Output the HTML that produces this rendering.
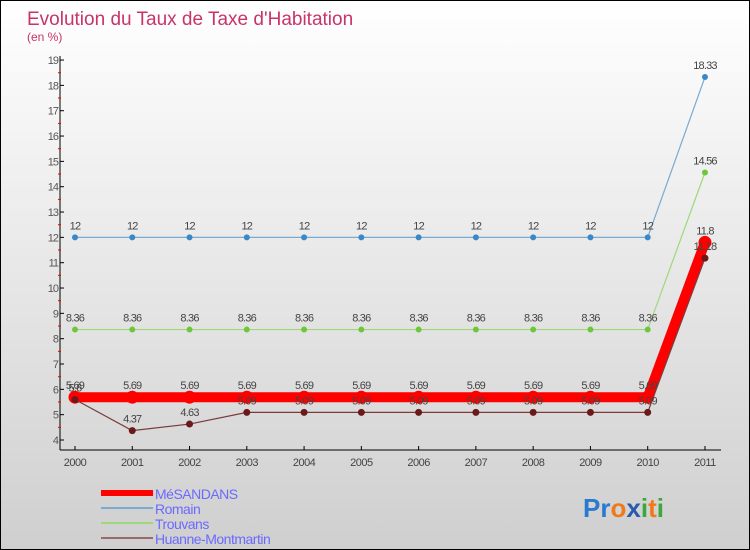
<!DOCTYPE html>
<html><head><meta charset="utf-8"><style>
body{margin:0}
#c{width:748px;height:548px;border:1px solid #000;background:linear-gradient(#fff,#cfcfcf);position:relative;overflow:hidden;font-family:"Liberation Sans",sans-serif}
</style></head><body>
<div id="c">
<svg id="s" width="748" height="548"></svg>
</div>
<script>
const years=["2000","2001","2002","2003","2004","2005","2006","2007","2008","2009","2010","2011"];
const romain=[12,12,12,12,12,12,12,12,12,12,12,18.33];
const trouvans=[8.36,8.36,8.36,8.36,8.36,8.36,8.36,8.36,8.36,8.36,8.36,14.56];
const mesandans=[5.69,5.69,5.69,5.69,5.69,5.69,5.69,5.69,5.69,5.69,5.69,11.8];
const huanne=[5.6,4.37,4.63,5.09,5.09,5.09,5.09,5.09,5.09,5.09,5.09,11.18];
const yTicks=[4,5,6,7,8,9,10,11,12,13,14,15,16,17,18,19];
const legendNames=["MéSANDANS","Romain","Trouvans","Huanne-Montmartin"];
const s=document.getElementById('s');
const NS="http://www.w3.org/2000/svg";
function X(i){return 74+i*57.27;}
function Y(v){return 439-(v-4)*25.33;}
function el(t,a,p){const e=document.createElementNS(NS,t);for(const k in a)e.setAttribute(k,a[k]);(p||s).appendChild(e);return e;}
let t=el('text',{x:26,y:24,fill:'#c8336a','font-size':19});t.textContent="Evolution du Taux de Taxe d'Habitation";

t=el('text',{x:26,y:40,fill:'#c8336a','font-size':12});t.textContent="(en %)";

let ax=el('line',{x1:59,y1:55,x2:59,y2:449,stroke:'#000'});

ax=el('line',{x1:59,y1:449,x2:720,y2:449,stroke:'#000'});

yTicks.forEach(v=>{el('line',{x1:59,x2:63,y1:Y(v),y2:Y(v),stroke:'#000'});
 if(v<19)el('line',{x1:57,x2:60,y1:Y(v+0.5),y2:Y(v+0.5),stroke:'#e00'});
 const l=el('text',{x:57,y:Y(v)+4,'text-anchor':'end','font-size':11,fill:'#555','letter-spacing':'-1'});l.textContent=v;
 });
years.forEach((y,i)=>{el('line',{x1:X(i),x2:X(i),y1:445,y2:449,stroke:'#000'});
 const l=el('text',{x:X(i),y:465,'text-anchor':'middle','font-size':11,fill:'#444','letter-spacing':'-0.5'});l.textContent=y;
 });
function series(d,col,w,r,dot,name){
 const p=el('polyline',{points:d.map((v,i)=>X(i)+','+Y(v)).join(' '),fill:'none',stroke:col,'stroke-width':w});
 
 d.forEach((v,i)=>{const c=el('circle',{cx:X(i),cy:Y(v),r:r,fill:dot});
  
  const l=el('text',{x:X(i),y:Y(v)-8,'text-anchor':'middle','font-size':11,fill:'#444','letter-spacing':'-0.8'});l.textContent=v;
  });
}
series(romain,'#7aaad0',1.2,3,'#3a88c8','romain');
series(trouvans,'#9fd87a',1.2,3,'#6cc83a','trouvans');
series(mesandans,'#f00',10,6.5,'#f00','mesandans');
series(huanne,'#7a3a3a',1.2,3.5,'#6a1a1a','huanne');
const lc=['#f00','#7aaad0','#9fd87a','#9a6a6a'],lw=[6,2,2,2];
legendNames.forEach((n,i)=>{const y=492+i*15;
 const ln=el('line',{x1:100,x2:152,y1:y,y2:y,stroke:lc[i],'stroke-width':lw[i]});
 
 const l=el('text',{x:154,y:y+6,'font-size':14,fill:'#6a6aff','letter-spacing':'-0.5'});l.textContent=n;
 });
const g=el('text',{x:582,y:516,'font-size':26,'font-weight':'bold'});

[['P','#2a7ad0'],['r','#2a7ad0'],['o','#f07a1a'],['x','#2a5ab0'],['i','#3aa83a'],['t','#f07a1a'],['i','#3aa83a']].forEach(([c,f])=>{const ts=el('tspan',{fill:f},g);ts.textContent=c;});
</script>
</body></html>
